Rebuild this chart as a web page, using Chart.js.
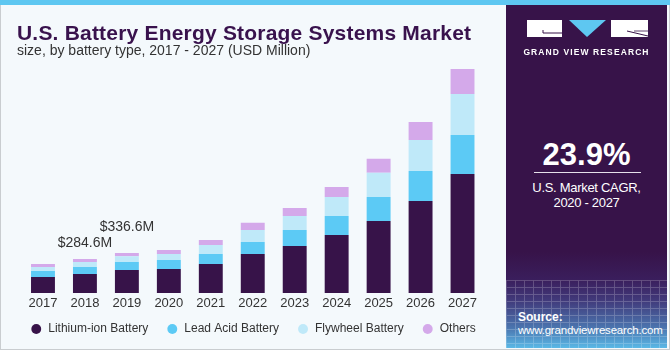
<!DOCTYPE html>
<html>
<head>
<meta charset="utf-8">
<script src="https://cdn.jsdelivr.net/npm/chart.js@4.4.1/dist/chart.umd.min.js"></script>
<style>
  html, body { margin: 0; padding: 0; }
  body { width: 670px; height: 350px; overflow: hidden; font-family: 'Liberation Sans', Arial, sans-serif; }
  #wrap { position: relative; width: 670px; height: 350px; background: #f4f9fc; overflow: hidden; }
  #frame { position: absolute; left: 0; top: 0; width: 668px; height: 348px; border: 1px solid #c9cdd0; pointer-events: none; z-index: 5; }
  #stripe { position: absolute; left: 0; top: 0; width: 670px; height: 5px; background: #5ec7f1; z-index: 6; }
  #title { position: absolute; left: 17px; top: 22px; font-weight: bold; font-size: 21px; line-height: 21px; letter-spacing: 0.2px; color: #39124d; white-space: nowrap; }
  #subtitle { position: absolute; left: 17px; top: 43px; font-size: 14px; line-height: 14px; color: #333; white-space: nowrap; }
  #chartBox { position: absolute; left: 0; top: 0; width: 506px; height: 350px; }
  #panel { position: absolute; left: 506px; top: 5px; width: 161px; height: 343px; overflow: hidden;
    background: linear-gradient(to bottom, #371349 0%, #371349 72%, #3a1e5c 80%, #41397a 86%, #4b74ae 94%, #5ab8e6 100%); }
  #grid { position: absolute; left: 0; top: 275px; width: 161px; height: 68px; opacity: 0.22;
    background-image: repeating-linear-gradient(to right, rgba(255,255,255,0.9) 0 1px, transparent 1px 9px),
                      repeating-linear-gradient(to bottom, rgba(255,255,255,0.9) 0 1px, transparent 1px 7px); }
  .ptxt { position: absolute; left: 0; width: 161px; text-align: center; color: #fff; white-space: nowrap; }
  #cagr { top: 134px; font-size: 31px; line-height: 31px; font-weight: bold; }
  #rule { position: absolute; left: 28px; top: 167px; width: 107px; height: 1px; background: #e6e0ea; }
  #cagrT1 { top: 175px; font-size: 13px; line-height: 15px; letter-spacing: -0.3px; }
  #cagrT2 { top: 190px; font-size: 13px; line-height: 15px; letter-spacing: -0.3px; }
  #src1 { position: absolute; left: 12px; top: 305px; font-size: 12px; font-weight: bold; color: #fff; }
  #src2 { position: absolute; left: 12px; top: 319px; font-size: 11.5px; color: #fff; letter-spacing: -0.2px; }
  #gvr { top: 42px; font-size: 8.5px; font-weight: bold; letter-spacing: 1.1px; color: #fff; }
</style>
</head>
<body>
<div id="wrap">
  <div id="chartBox"><canvas id="c" width="506" height="350"></canvas></div>
  <div id="title">U.S. Battery Energy Storage Systems Market</div>
  <div id="subtitle">size, by battery type, 2017 - 2027 (USD Million)</div>
  <div id="panel">
    <div id="grid"></div>
    <svg style="position:absolute;left:0;top:0" width="161" height="40">
      <rect x="21" y="15" width="35" height="17" fill="#ffffff"/>
      <polyline points="37,25 37,28 56,28" fill="none" stroke="#371349" stroke-width="1"/>
      <polygon points="63,15 100,15 81,32" fill="#5ec7f1"/>
      <rect x="105" y="15" width="37" height="17" fill="#ffffff"/>
      <line x1="121" y1="26" x2="142" y2="31" stroke="#371349" stroke-width="1"/>
      <line x1="128" y1="26" x2="142" y2="26" stroke="#371349" stroke-width="0.8"/>
    </svg>
    <div class="ptxt" id="gvr">GRAND VIEW RESEARCH</div>
    <div class="ptxt" id="cagr">23.9%</div>
    <div id="rule"></div>
    <div class="ptxt" id="cagrT1">U.S. Market CAGR,</div>
    <div class="ptxt" id="cagrT2">2020 - 2027</div>
    <div id="src1">Source:</div>
    <div id="src2">www.grandviewresearch.com</div>
  </div>
  <div id="stripe"></div>
  <div id="frame"></div>
</div>
<script>
// ---- data (USD Million) ----
const years = ['2017','2018','2019','2020','2021','2022','2023','2024','2025','2026','2027'];
const lithiumIon = [134, 159.6, 192.6, 202, 244, 328, 395, 487, 605, 773, 1000];
const leadAcid   = [50, 58.9, 67, 76, 84, 101, 134, 160, 202, 252, 328];
const flywheel   = [34, 41.5, 50, 50, 76, 101, 118, 160, 202, 260, 344];
const others     = [25, 24.6, 27, 34, 42, 59, 67, 84, 118, 151, 210];
const seriesNames = ['Lithium-ion Battery', 'Lead Acid Battery', 'Flywheel Battery', 'Others'];
const annotatedYears = ['2018', '2019'];

const colors = ['#371349', '#5ccaf5', '#bfe9f9', '#d4a9ea'];
const seriesData = [lithiumIon, leadAcid, flywheel, others];
const FONT = '"Liberation Sans", Arial, sans-serif';

const totalLabels = {
  id: 'totalLabels',
  afterDatasetsDraw(chart, args, opts) {
    const ctx = chart.ctx;
    const x = chart.scales.x, y = chart.scales.y;
    ctx.save();
    ctx.font = '14px ' + FONT;
    ctx.fillStyle = '#333333';
    ctx.textAlign = 'center';
    ctx.textBaseline = 'middle';
    annotatedYears.forEach((yr, k) => {
      const i = years.indexOf(yr);
      const total = seriesData.reduce((s, arr) => s + arr[i], 0);
      const px = x.getPixelForValue(i);
      const py = y.getPixelForValue(total) - opts.lift[k];
      ctx.fillText('$' + total.toFixed(1) + 'M', px, py);
    });
    ctx.restore();
  }
};

const hiddenAxis = (pos, w) => ({
  type: 'linear', position: pos, display: true,
  grid: { display: false, drawTicks: false }, border: { display: false },
  ticks: { display: false },
  afterFit(s) { s.width = w; }
});

new Chart(document.getElementById('c'), {
  type: 'bar',
  data: {
    labels: years,
    datasets: seriesData.map((d, i) => ({
      label: seriesNames[i],
      data: d,
      yAxisID: 'y',
      backgroundColor: colors[i],
      borderWidth: 0,
      categoryPercentage: 1,
      barPercentage: 0.57
    }))
  },
  options: {
    responsive: false,
    animation: false,
    layout: { padding: { left: 0, right: 0, top: 60, bottom: 5 } },
    scales: {
      x: {
        stacked: true,
        grid: { display: false, drawTicks: false },
        border: { display: false },
        ticks: { color: '#333333', mirror: true, padding: -18, font: { family: FONT, size: 13 } },
        afterFit(s) { s.height = 12; }
      },
      y: Object.assign(hiddenAxis('left', 22), { stacked: true, min: 0, max: 1957 }),
      yR: Object.assign(hiddenAxis('right', 22.5), { min: 0, max: 1 })
    },
    plugins: {
      legend: {
        position: 'bottom',
        labels: {
          usePointStyle: true,
          pointStyle: 'circle',
          boxWidth: 12,
          boxHeight: 7,
          padding: 18,
          color: '#333333',
          font: { family: FONT, size: 12 }
        }
      },
      tooltip: { enabled: false },
      totalLabels: { lift: [16, 26] }
    }
  },
  plugins: [totalLabels]
});
</script>
</body>
</html>
